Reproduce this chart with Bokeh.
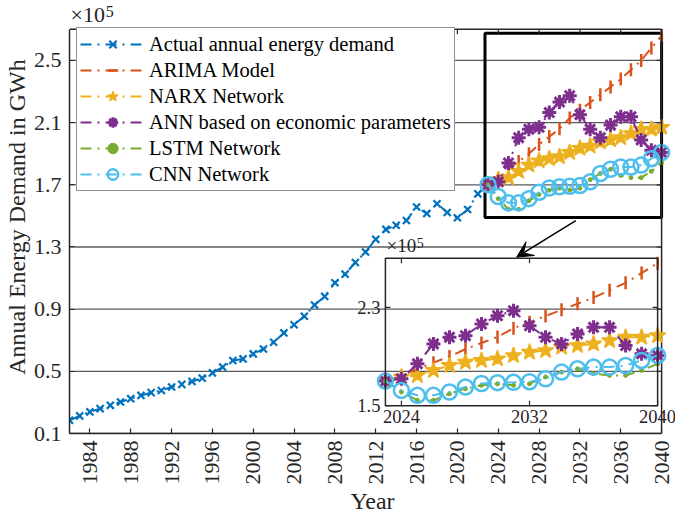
import math
from bokeh.plotting import figure
from bokeh.models import (Range1d, FixedTicker, Legend, LegendItem,
                          Label, LabelSet, Arrow, VeeHead, ColumnDataSource)
from bokeh.embed import file_html
from bokeh.resources import INLINE

# ---- data (annual energy demand, x 10^5 GWh) ----
years_actual = list(range(1982, 2024))
actual = [0.185, 0.213, 0.239, 0.260, 0.281, 0.303, 0.324, 0.345, 0.363, 0.377,
          0.399, 0.416, 0.435, 0.456, 0.490, 0.527, 0.570, 0.580, 0.612, 0.644,
          0.687, 0.747, 0.800, 0.854, 0.926, 0.982, 1.070, 1.125, 1.200, 1.268,
          1.349, 1.413, 1.440, 1.470, 1.557, 1.515, 1.578, 1.522, 1.488, 1.541,
          1.642, 1.703]

years_fc = list(range(2023, 2041))
arima = [1.70, 1.74, 1.80, 1.85, 1.90, 1.96, 2.01, 2.06, 2.13, 2.18,
         2.23, 2.28, 2.33, 2.38, 2.44, 2.50, 2.58, 2.66]
narx = [1.70, 1.733, 1.746, 1.787, 1.827, 1.854, 1.868, 1.881, 1.908, 1.935,
        1.949, 1.976, 1.989, 2.003, 2.030, 2.057, 2.057, 2.070]
ann = [1.70, 1.719, 1.841, 2.003, 2.057, 2.070, 2.165, 2.232, 2.273, 2.151,
       2.057, 2.003, 2.084, 2.138, 2.138, 1.989, 1.922, 1.908]
lstm = [1.70, 1.611, 1.543, 1.543, 1.597, 1.638, 1.665, 1.678, 1.665, 1.678,
        1.733, 1.773, 1.800, 1.760, 1.746, 1.746, 1.787, 1.841]
cnn = [1.70, 1.624, 1.584, 1.584, 1.611, 1.652, 1.680, 1.687, 1.690, 1.695,
       1.719, 1.773, 1.800, 1.814, 1.814, 1.827, 1.868, 1.908]

x_ticks = list(range(1984, 2041, 4))
y_ticks = [0.1, 0.5, 0.9, 1.3, 1.7, 2.1, 2.5]
inset_x_ticks = [2024, 2032, 2040]
inset_y_ticks = [1.5, 2.3]

labels = ["Actual annual energy demand", "ARIMA Model", "NARX Network",
          "ANN based on economic parameters", "LSTM Network", "CNN Network"]

# ---- styling ----
FONT = "Liberation Serif"
AX = "#262626"
GRID = "#5a5a5a"
C_BLUE, C_ORANGE, C_YELLOW = "#0072BD", "#D95319", "#EDB120"
C_PURPLE, C_GREEN, C_CYAN = "#7E2F8E", "#77AC30", "#4DBEEE"
DASH = "11 6 2 6"
TICK_FS = "22px"

W, H = 675, 516
BL, BB = 65, 81                 # canvas border for the tick / axis labels
BOX_W, BOX_H = 596, 406         # axes box in pixels
PAD_R, PAD_T = W - BL - BOX_W, H - BB - BOX_H   # free room right/top inside the frame
FW, FH = W - BL, H - BB

XR = (1982, 2040)
YR = (0.1, 2.7)
kx = BOX_W / (XR[1] - XR[0])
ky = BOX_H / (YR[1] - YR[0])

p = figure(width=W, height=H, title=None,
           x_range=Range1d(XR[0], XR[1] + PAD_R / kx),
           y_range=Range1d(YR[0], YR[1] + PAD_T / ky),
           output_backend="svg", toolbar_location=None,
           min_border_left=BL, min_border_right=0,
           min_border_top=0, min_border_bottom=BB)
p.outline_line_color = None
p.background_fill_color = "white"
p.border_fill_color = "white"
p.grid.visible = False

# bottom / left axes
p.xaxis.ticker = FixedTicker(ticks=x_ticks)
p.xaxis.major_label_overrides = {t: str(t) for t in x_ticks}
p.xaxis.major_label_orientation = math.pi / 2
p.xaxis.bounds = XR
p.yaxis.ticker = FixedTicker(ticks=y_ticks)
p.yaxis.major_label_overrides = {t: f"{t:.1f}" for t in y_ticks}
p.yaxis.bounds = YR
for ax in (p.xaxis[0], p.yaxis[0]):
    ax.major_tick_in = 5
    ax.major_tick_out = 0
    ax.minor_tick_line_color = None
    ax.axis_line_color = AX
    ax.axis_line_width = 1.5
    ax.major_tick_line_color = AX
    ax.major_tick_line_width = 1.2
    ax.major_label_text_font = FONT
    ax.major_label_text_font_size = TICK_FS
    ax.major_label_text_color = AX
    ax.axis_label_text_font = FONT
    ax.axis_label_text_font_size = "24px"
    ax.axis_label_text_font_style = "normal"
    ax.axis_label_text_color = AX
p.xaxis.axis_label = "Year"
p.yaxis.axis_label = "Annual Energy Demand in GWh"
p.xaxis.major_label_standoff = 7
p.xaxis.axis_label_standoff = 0
p.yaxis.major_label_standoff = 8
p.yaxis.axis_label_standoff = 1

# horizontal grid lines
n_y = len(y_ticks)
p.segment(x0=[XR[0]] * n_y, x1=[XR[1]] * n_y, y0=y_ticks, y1=y_ticks,
          line_color=GRID, line_width=1.3)

# zoom box around the forecast horizon
zoom_box = dict(left=2022.7, right=2040, bottom=1.49, top=2.675)
p.quad(fill_color=None, line_color="black", line_width=3, **zoom_box)

# ---- series ----
def series(x, y, color, marker, size, mlw, fill=True, angle=0.0, **kw):
    r_line = p.line(x, y, line_color=color, line_width=2, line_dash=DASH, **kw)
    r_mark = p.scatter(x, y, marker=marker, size=size, line_color=color,
                       line_width=mlw, fill_color=color if fill else None,
                       angle=angle, **kw)
    return [r_line, r_mark]

def forecasts(**kw):
    return [
        series(years_fc, arima, C_ORANGE, "dash", 13, 2.5, angle=math.pi / 2, **kw),
        series(years_fc, narx, C_YELLOW, "star", 17, 1.5, **kw),
        series(years_fc, ann, C_PURPLE, "asterisk", 14, 3, **kw),
        series(years_fc, lstm, C_GREEN, "circle", 4, 1, **kw),
        series(years_fc, cnn, C_CYAN, "circle", 15, 2.5, fill=False, **kw),
    ]

main_r = [series(years_actual, actual, C_BLUE, "x", 10, 2.2)] + forecasts()

# top and right edges of the axes box, with inward ticks
n_x = len(x_ticks)
p.segment(x0=[XR[0], XR[1]], x1=[XR[1], XR[1]], y0=[YR[1], YR[0]], y1=[YR[1], YR[1]],
          line_color=AX, line_width=1.5)
p.segment(x0=x_ticks, x1=x_ticks, y0=[YR[1]] * n_x, y1=[YR[1] - 5 / ky] * n_x,
          line_color=AX, line_width=1.2)
p.segment(x0=[XR[1]] * n_y, x1=[XR[1] - 5 / kx] * n_y, y0=y_ticks, y1=y_ticks,
          line_color=AX, line_width=1.2)

# ---- inset axes on extra ranges inside the main frame ----
IX = (2023, 2040)
IY = (1.5, 2.7)
# inset box in pixels relative to the frame's bottom-left corner (left, right, bottom, top)
IL, IRt, IB, IT = 318, 592, 28, 176
sx = (IRt - IL) / (IX[1] - IX[0])
sy = (IT - IB) / (IY[1] - IY[0])
ix0 = IX[0] - IL / sx
iy0 = IY[0] - IB / sy
p.extra_x_ranges = {"ins": Range1d(ix0, ix0 + FW / sx)}
p.extra_y_ranges = {"ins": Range1d(iy0, iy0 + FH / sy)}
ins = dict(x_range_name="ins", y_range_name="ins")

forecasts(**ins)

p.quad(left=IX[0], right=IX[1], bottom=IY[0], top=IY[1], fill_color=None,
       line_color=AX, line_width=1.5, **ins)
n_ix, n_iy = len(inset_x_ticks), len(inset_y_ticks)
for yb, d in ((IY[0], 1), (IY[1], -1)):
    p.segment(x0=inset_x_ticks, x1=inset_x_ticks, y0=[yb] * n_ix,
              y1=[yb + d * 5 / sy] * n_ix, line_color=AX, line_width=1.2, **ins)
for xb, d in ((IX[0], 1), (IX[1], -1)):
    p.segment(x0=[xb] * n_iy, x1=[xb + d * 5 / sx] * n_iy, y0=inset_y_ticks,
              y1=inset_y_ticks, line_color=AX, line_width=1.2, **ins)

xt_src = ColumnDataSource(dict(x=inset_x_ticks, y=[IY[0]] * n_ix,
                               t=[str(t) for t in inset_x_ticks]))
p.add_layout(LabelSet(x="x", y="y", text="t", source=xt_src, text_align="center",
                      text_baseline="top", y_offset=-4, text_font=FONT,
                      text_font_size="18.5px", text_color=AX, **ins))
yt_src = ColumnDataSource(dict(x=[IX[0]] * n_iy, y=inset_y_ticks,
                               t=[f"{t:.1f}" for t in inset_y_ticks]))
p.add_layout(LabelSet(x="x", y="y", text="t", source=yt_src, text_align="right",
                      text_baseline="middle", x_offset=-5, text_font=FONT,
                      text_font_size="18.5px", text_color=AX, **ins))

# exponent labels
def exponent(x, y, fs, ext=None):
    kw = ext or {}
    p.add_layout(Label(x=x, y=y, text="×10", text_font=FONT, text_font_size=f"{fs}px",
                       text_baseline="bottom", x_offset=1, y_offset=2,
                       text_color=AX, **kw))
    p.add_layout(Label(x=x, y=y, text="5", text_font=FONT,
                       text_font_size=f"{round(fs * 0.72)}px", text_baseline="bottom",
                       x_offset=1 + fs * 1.6, y_offset=2 + fs * 0.45,
                       text_color=AX, **kw))

exponent(XR[0], YR[1], 22)
exponent(IX[0], IY[1], 19, ins)

# arrow from the zoom box down to the inset
p.add_layout(Arrow(end=VeeHead(size=16, fill_color="black", line_color="black"),
                   x_start=2031.6, y_start=1.47, x_end=2025.8, y_end=1.235,
                   line_color="black", line_width=1.5))

# legend
items = [LegendItem(label=lab, renderers=rs) for lab, rs in zip(labels, main_r)]
legend = Legend(items=items, location=(7, 242), label_text_font=FONT,
                label_text_font_size="20.5px", label_text_color="#000000",
                glyph_width=65, glyph_height=26, label_height=26, spacing=0,
                padding=3, margin=0, label_standoff=4,
                border_line_color=AX, border_line_width=1.5,
                background_fill_color="white", background_fill_alpha=1)
p.add_layout(legend)

open("out.html", "w").write(file_html(p, INLINE))
